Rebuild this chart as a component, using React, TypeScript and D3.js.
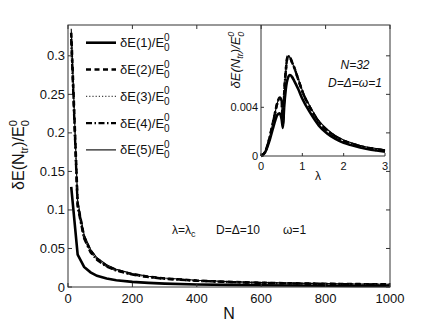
import React from "react";
import * as d3 from "d3";

const Ns = [10, 30, 50, 70, 90, 120, 150, 200, 250, 300, 400, 500, 600, 700, 800, 900, 1000];
const mainS1 = [0.130, 0.042, 0.026, 0.019, 0.0145, 0.011, 0.0088, 0.0066, 0.0053, 0.0044, 0.0033, 0.0027, 0.0022, 0.0019, 0.0017, 0.0015, 0.0013];
const mainS2 = [0.330, 0.108, 0.065, 0.047, 0.0365, 0.0275, 0.022, 0.0166, 0.0133, 0.011, 0.0083, 0.0066, 0.0055, 0.0047, 0.0041, 0.0037, 0.0033];
const mainS3 = [0.325, 0.106, 0.064, 0.046, 0.036, 0.027, 0.0216, 0.0163, 0.013, 0.0108, 0.0081, 0.0065, 0.0054, 0.0046, 0.0040, 0.0036, 0.0032];
const mainS4 = [0.322, 0.104, 0.063, 0.045, 0.0352, 0.0265, 0.0212, 0.016, 0.0128, 0.0106, 0.008, 0.0064, 0.0053, 0.0045, 0.0040, 0.0035, 0.0032];
const mainS5 = [0.335, 0.112, 0.068, 0.049, 0.038, 0.0288, 0.023, 0.0174, 0.0139, 0.0116, 0.0087, 0.007, 0.0058, 0.005, 0.0044, 0.0039, 0.0035];

const lambdas = [0, 0.1, 0.2, 0.3, 0.4, 0.45, 0.5, 0.53, 0.56, 0.6, 0.65, 0.7, 0.75, 0.8, 0.9, 1.0, 1.2, 1.4, 1.6, 1.8, 2.0, 2.2, 2.4, 2.6, 2.8, 3.0];
const insetS1 = [0, 0.0003, 0.0012, 0.0024, 0.0034, 0.0035, 0.003, 0.0023, 0.004, 0.0055, 0.0064, 0.00665, 0.0065, 0.0062, 0.0055, 0.0047, 0.0035, 0.0025, 0.00185, 0.0014, 0.00108, 0.00088, 0.0007, 0.00055, 0.00045, 0.00036];
const insetS2 = [0, 0.00035, 0.0014, 0.0029, 0.0044, 0.0048, 0.0045, 0.0026, 0.005, 0.007, 0.0082, 0.0081, 0.0077, 0.0073, 0.0063, 0.0053, 0.0039, 0.0028, 0.0021, 0.0016, 0.00125, 0.001, 0.0008, 0.00065, 0.00055, 0.00045];
const insetS5 = [0, 0.00035, 0.0014, 0.0029, 0.0044, 0.0048, 0.0045, 0.0026, 0.005, 0.007, 0.0082, 0.0081, 0.0077, 0.0073, 0.0064, 0.0054, 0.0040, 0.0029, 0.0022, 0.00168, 0.00132, 0.00107, 0.00087, 0.00072, 0.00061, 0.00051];

const xTicks = [0, 200, 400, 600, 800, 1000];
const yTicks = [0, 0.05, 0.1, 0.15, 0.2, 0.25, 0.3];
const yTickLabels = ["0", "0.05", "0.1", "0.15", "0.2", "0.25", "0.3"];
const insetXTicks = [0, 1, 2, 3];
const insetYTicks = [0, 0.004];
const insetYTickLabels = ["0", "0.004"];
const legendLabels = ["1", "2", "3", "4", "5"];

const FONT = "'Liberation Sans', Arial, Helvetica, sans-serif";

type Style = { w: number; dash?: string; color: string };
const styles: Style[] = [
  { w: 2.6, color: "#000" },
  { w: 2.6, dash: "5,3.5", color: "#000" },
  { w: 1.2, dash: "1.2,2", color: "#444" },
  { w: 2.4, dash: "6,2.5,1.5,2.5", color: "#000" },
  { w: 1.1, color: "#000" },
];

export default function App() {
  const L = 68, R = 390, T = 25, B = 287;
  const x = d3.scaleLinear().domain([0, 1000]).range([L, R]);
  const y = d3.scaleLinear().domain([0, 0.34]).range([B, T]);

  const iL = 261, iR = 385, iT = 25, iB = 156;
  const ix = d3.scaleLinear().domain([0, 3]).range([iL, iR]);
  const iy = d3.scaleLinear().domain([0, 0.01076]).range([iB, iT]);

  const mainSeries = [mainS1, mainS2, mainS3, mainS4, mainS5];
  const line = d3.line<number>().x((_, i) => x(Ns[i])).y((d) => y(d));
  const insetSeries = [insetS1, insetS2, insetS2, insetS2, insetS5];
  const iline = d3.line<number>().x((_, i) => ix(lambdas[i])).y((d) => iy(d)).curve(d3.curveMonotoneX);

  const tl = 4;
  const axisColor = "#333";

  return (
    <svg width={436} height={328} style={{ position: "absolute", left: 0, top: 0, background: "#fff" }} fontFamily={FONT}>
      <rect x={0} y={0} width={436} height={328} fill="#fff" />
      {/* main curves */}
      <g fill="none">
        {mainSeries.map((s, k) => (
          <path key={k} d={line(s) || ""} stroke={styles[k].color} strokeWidth={styles[k].w} strokeDasharray={styles[k].dash} />
        ))}
      </g>
      {/* main box */}
      <rect x={L} y={T} width={R - L} height={B - T} fill="none" stroke={axisColor} strokeWidth={1} />
      {xTicks.map((t) => (
        <g key={"xt" + t}>
          <line x1={x(t)} x2={x(t)} y1={B} y2={B - tl} stroke={axisColor} />
          <line x1={x(t)} x2={x(t)} y1={T} y2={T + tl} stroke={axisColor} />
          <text x={x(t)} y={303} fontSize={13} textAnchor="middle" fill="#111">{t}</text>
        </g>
      ))}
      {yTicks.map((t, i) => (
        <g key={"yt" + t}>
          <line x1={L} x2={L + tl} y1={y(t)} y2={y(t)} stroke={axisColor} />
          <line x1={R} x2={R - tl} y1={y(t)} y2={y(t)} stroke={axisColor} />
          <text x={L - 3} y={y(t) + 4.5} fontSize={13} textAnchor="end" fill="#111">{yTickLabels[i]}</text>
        </g>
      ))}
      <text x={229} y={319} fontSize={16} textAnchor="middle" fill="#111">N</text>
      <text transform="translate(24,155) rotate(-90)" fontSize={16} textAnchor="middle" fill="#111">
        δE(N<tspan fontSize={11} dy={4}>tr</tspan><tspan dy={-4}>)/E</tspan>
        <tspan fontSize={11} dy={-7}>0</tspan>
        <tspan fontSize={11} dx={-6.1} dy={12}>0</tspan>
      </text>

      {/* legend */}
      {legendLabels.map((lab, k) => {
        const ly = 42.7 + k * 26.8;
        return (
          <g key={"lg" + k}>
            <line x1={86} x2={116} y1={ly} y2={ly} stroke={styles[k].color} strokeWidth={styles[k].w} strokeDasharray={styles[k].dash} />
            <text x={120} y={ly + 4.5} fontSize={13} fill="#111">
              δE({lab})/E<tspan fontSize={10} dy={-6.5}>0</tspan>
              <tspan fontSize={10} dx={-5.6} dy={10.5}>0</tspan>
            </text>
          </g>
        );
      })}

      {/* annotation */}
      <text x={172} y={234} fontSize={12} fill="#111">
        λ=λ<tspan fontSize={9} dy={3}>c</tspan>
      </text>
      <text x={216} y={234} fontSize={12} fill="#111">D=Δ=10</text>
      <text x={283} y={234} fontSize={12} fill="#111">ω=1</text>

      {/* inset */}
      <g fill="none">
        {insetSeries.map((s, k) => (
          <path key={"is" + k} d={iline(s) || ""} stroke={styles[k].color} strokeWidth={styles[k].w} strokeDasharray={styles[k].dash} />
        ))}
      </g>
      <line x1={iL} x2={iL} y1={iT} y2={iB} stroke={axisColor} />
      <line x1={iL} x2={iR} y1={iB} y2={iB} stroke={axisColor} />
      {insetXTicks.map((t) => (
        <g key={"ixt" + t}>
          <line x1={ix(t)} x2={ix(t)} y1={iB} y2={iB - 3} stroke={axisColor} />
          <text x={ix(t)} y={170} fontSize={11} textAnchor="middle" fill="#111">{t}</text>
        </g>
      ))}
      {insetYTicks.map((t, i) => (
        <g key={"iyt" + t}>
          <line x1={iL} x2={iL + 3} y1={iy(t)} y2={iy(t)} stroke={axisColor} />
          <text x={iL - 3} y={iy(t) + 4} fontSize={11} textAnchor="end" fill="#111">{insetYTickLabels[i]}</text>
        </g>
      ))}
      <text x={318} y={180} fontSize={12} textAnchor="middle" fill="#111">λ</text>
      <text transform="translate(240,60) rotate(-90)" fontSize={13} fontStyle="italic" textAnchor="middle" fill="#111">
        δE(N<tspan fontSize={9} dy={3}>tr</tspan><tspan dy={-3}>)/E</tspan>
        <tspan fontSize={9} dy={-6}>0</tspan>
        <tspan fontSize={9} dx={-5} dy={10}>0</tspan>
      </text>
      <text x={355} y={69} fontSize={12} fontStyle="italic" textAnchor="middle" fill="#111">N=32</text>
      <text x={355} y={87} fontSize={12} fontStyle="italic" textAnchor="middle" fill="#111">D=Δ=ω=1</text>
    </svg>
  );
}
